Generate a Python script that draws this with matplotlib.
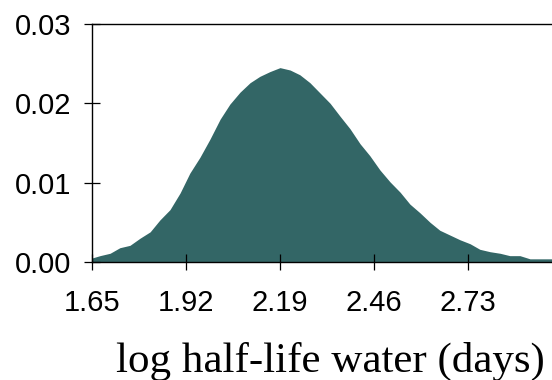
import matplotlib
matplotlib.use("Agg")
import matplotlib.pyplot as plt

# Data
x_vals = [1.650, 1.673, 1.702, 1.730, 1.759, 1.788, 1.817, 1.845, 1.874, 1.903,
          1.931, 1.960, 1.989, 2.018, 2.046, 2.075, 2.104, 2.132, 2.161, 2.190,
          2.219, 2.247, 2.276, 2.305, 2.334, 2.362, 2.391, 2.420, 2.448, 2.477,
          2.506, 2.535, 2.563, 2.592, 2.621, 2.649, 2.678, 2.707, 2.736, 2.764,
          2.793, 2.822, 2.850, 2.879, 2.908, 2.937, 2.971, 3.000]
density = [0.0005, 0.0008, 0.0011, 0.0018, 0.0021, 0.0030, 0.0038, 0.0053, 0.0066, 0.0087,
           0.0112, 0.0132, 0.0155, 0.0180, 0.0199, 0.0214, 0.0226, 0.0234, 0.0240, 0.0245,
           0.0242, 0.0236, 0.0226, 0.0213, 0.0200, 0.0184, 0.0168, 0.0149, 0.0134, 0.0116,
           0.0101, 0.0088, 0.0073, 0.0062, 0.0050, 0.0040, 0.0034, 0.0028, 0.0023, 0.0016,
           0.0013, 0.0011, 0.0008, 0.0008, 0.0004, 0.0004, 0.0004, 0.0004]
x_ticks = [1.65, 1.92, 2.19, 2.46, 2.73]
x_tick_labels = ["1.65", "1.92", "2.19", "2.46", "2.73"]
y_ticks = [0.00, 0.01, 0.02, 0.03]
y_tick_labels = ["0.00", "0.01", "0.02", "0.03"]
x_label = "log half-life water (days)"

W, H = 552, 380
fig = plt.figure(figsize=(W / 100, H / 100), dpi=100)
left, bottom_px, top_px = 92, 262, 24
x_right_px = 92 + (3.0 - 1.65) / 0.27 * 94
ax = fig.add_axes([left / W, 1 - bottom_px / H, (x_right_px - left) / W, (bottom_px - top_px) / H])

ax.fill_between(x_vals, density, 0, color="#336666", linewidth=0)
ax.set_xlim(1.65, 3.0)
ax.set_ylim(0, 0.03)

ax.set_xticks(x_ticks)
ax.set_xticklabels(x_tick_labels)
ax.set_yticks(y_ticks)
ax.set_yticklabels(y_tick_labels)

for s in ax.spines.values():
    s.set_linewidth(1.0)
    s.set_color("black")

ax.tick_params(direction="inout", length=11.5, width=0.9, colors="black",
               labelsize=21, labelfontfamily="Liberation Sans")
ax.tick_params(axis="x", pad=14)
ax.tick_params(axis="y", pad=9)
ax.tick_params(top=False, right=False)

fig.text(330 / W, 1 - 372 / H, x_label, ha="center", va="baseline",
         fontsize=31, family="Liberation Serif")

fig.savefig("out.png", dpi=100)
